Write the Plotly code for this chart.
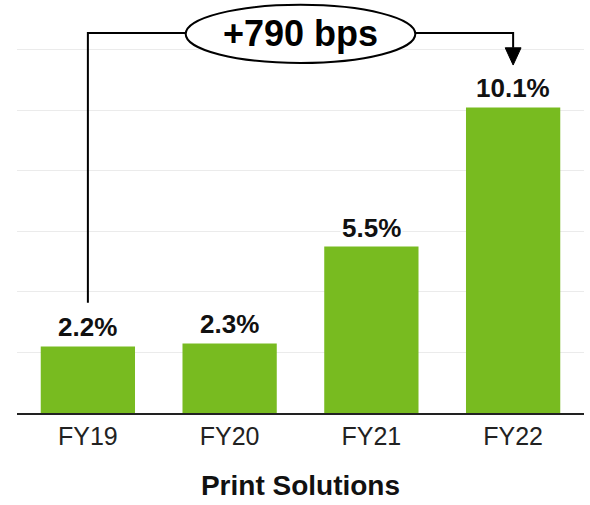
import plotly.graph_objects as go

categories = ["FY19", "FY20", "FY21", "FY22"]
margins = [2.2, 2.3, 5.5, 10.1]
axis_title = "Print Solutions"
callout_text = "+790 bps"

GREEN = "#78BB20"
FONT = "Liberation Sans, Arial, sans-serif"

fig = go.Figure()
fig.add_trace(go.Bar(
    x=categories, y=margins, marker_color=GREEN, width=0.665,
    marker_line_width=0, hoverinfo="skip",
))

# value labels
for c, v in zip(categories, margins):
    fig.add_annotation(
        x=c, y=v, text=f"<b>{v:.1f}%</b>", showarrow=False,
        xanchor="center", yanchor="bottom", yshift=2,
        font=dict(family=FONT, size=26, color="#111111"),
        bgcolor="white", borderpad=1,
    )

# bracket callout
i0, i1 = 0, len(margins) - 1
top_y = 12.56
start_y = margins[i0] + 1.44
tip_y = margins[i1] + 1.4
head_h = 0.57
head_w = 0.056
ell_x0, ell_x1 = 0.69, 2.31
ell_y0, ell_y1 = 11.57, 13.49
mid_x = (i0 + i1) / 2
line = dict(color="black", width=2)

fig.add_shape(type="path",
              path=f"M {i0},{start_y} L {i0},{top_y} L {ell_x0},{top_y}",
              xref="x", yref="y", line=line)
fig.add_shape(type="path",
              path=f"M {ell_x1},{top_y} L {i1},{top_y} L {i1},{tip_y + head_h}",
              xref="x", yref="y", line=line)
fig.add_shape(type="path",
              path=f"M {i1 - head_w},{tip_y + head_h} L {i1 + head_w},{tip_y + head_h} L {i1},{tip_y} Z",
              xref="x", yref="y", line=dict(color="black", width=1), fillcolor="black")
fig.add_shape(type="circle", x0=ell_x0, x1=ell_x1, y0=ell_y0, y1=ell_y1,
              xref="x", yref="y", line=line, fillcolor="white")
fig.add_annotation(x=mid_x, y=(ell_y0 + ell_y1) / 2, text=f"<b>{callout_text}</b>",
                   showarrow=False, xanchor="center", yanchor="middle",
                   font=dict(family=FONT, size=36, color="black"))

fig.update_layout(
    width=590, height=505,
    margin=dict(l=17, r=6, t=0, b=92),
    plot_bgcolor="white", paper_bgcolor="white",
    showlegend=False,
    bargap=0.335,
    xaxis=dict(
        showline=True, linecolor="#222222", linewidth=2,
        ticks="", showgrid=False,
        tickfont=dict(family=FONT, size=25, color="#222222"),
        title=dict(text=f"<b>{axis_title}</b>", standoff=26,
                   font=dict(family=FONT, size=28, color="#111111")),
        fixedrange=True,
    ),
    yaxis=dict(
        range=[0, 13.65], dtick=2, showticklabels=False,
        showgrid=True, gridcolor="#EBEBEB", gridwidth=1,
        zeroline=False, showline=False, ticks="", fixedrange=True,
    ),
)

fig.write_html("out.html")
